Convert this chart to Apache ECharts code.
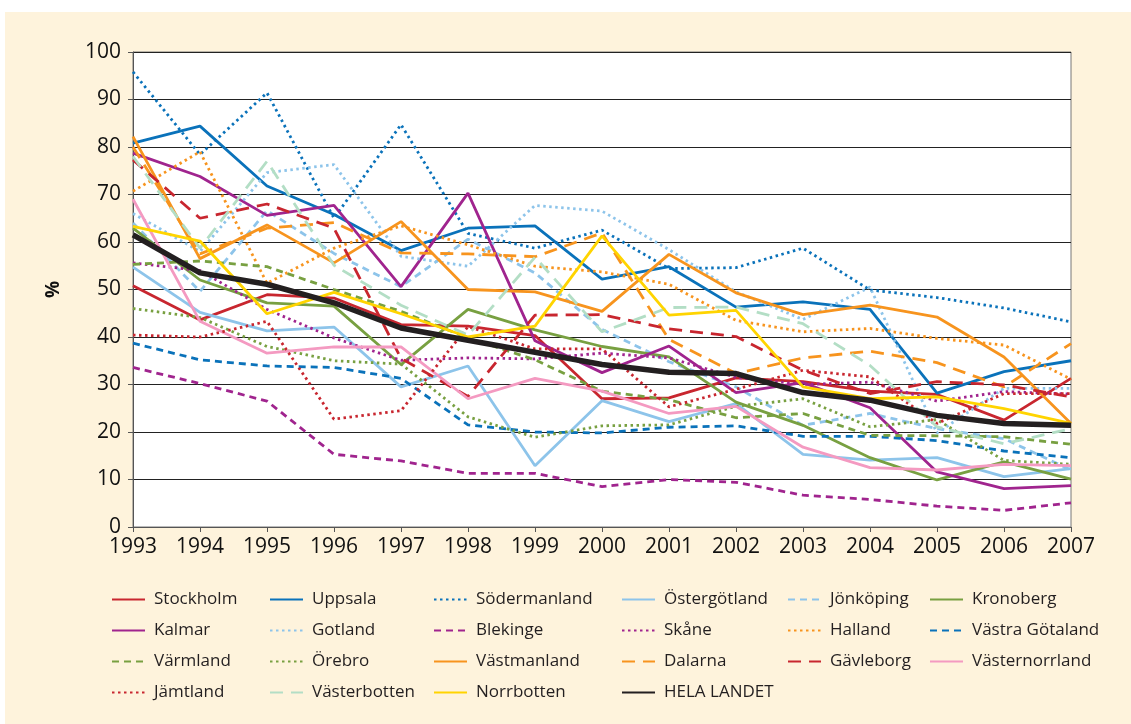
<!DOCTYPE html>
<html>
<head>
<meta charset="utf-8">
<script src="https://cdn.jsdelivr.net/npm/echarts@6/dist/echarts.min.js"></script>
<style>
  html, body { margin: 0; padding: 0; background: #fff; }
  #container { width: 1131px; height: 724px; }
</style>
</head>
<body>
<div id="container"></div>
<script>
var years = ['1993', '1994', '1995', '1996', '1997', '1998', '1999', '2000', '2001', '2002', '2003', '2004', '2005', '2006', '2007'];

// andel i procent per län och år
var stockholm      = [50.8, 43.6, 48.9, 48.2, 42.6, 42.3, 40.3, 27.0, 27.2, 31.4, 30.6, 28.6, 27.9, 22.5, 31.3];
var uppsala        = [80.8, 84.4, 71.8, 65.8, 58.2, 62.9, 63.4, 52.2, 54.8, 46.3, 47.4, 45.8, 28.2, 32.7, 35.0];
var sodermanland   = [95.8, 78.4, 91.4, 65.0, 84.7, 61.8, 58.7, 62.5, 54.4, 54.6, 58.7, 49.9, 48.3, 46.1, 43.2];
var ostergotland   = [54.7, 45.2, 41.3, 42.1, 29.5, 33.9, 12.9, 26.6, 22.2, 26.0, 15.3, 14.1, 14.6, 10.6, 12.3];
var jonkoping      = [64.0, 49.6, 66.6, 57.6, 50.6, 60.6, 53.5, 41.6, 34.8, 29.5, 21.4, 23.9, 20.7, 18.6, 12.0];
var kronoberg      = [62.9, 52.0, 47.2, 46.5, 34.2, 45.8, 41.5, 38.0, 35.8, 26.3, 21.4, 14.6, 9.9, 13.7, 10.1];
var kalmar         = [78.7, 73.8, 65.6, 67.7, 50.6, 70.3, 39.2, 32.5, 38.1, 28.3, 30.4, 25.1, 11.6, 8.1, 8.7];
var gotland        = [66.0, 58.0, 74.6, 76.3, 57.0, 54.9, 67.7, 66.5, 58.4, 49.5, 43.7, 50.5, 19.8, 29.2, 29.2];
var blekinge       = [33.6, 30.2, 26.5, 15.3, 13.9, 11.3, 11.3, 8.5, 10.0, 9.4, 6.7, 5.8, 4.4, 3.5, 5.1];
var skane          = [55.6, 54.0, 45.8, 39.8, 35.1, 35.6, 35.4, 36.6, 35.6, 31.5, 30.0, 30.5, 26.5, 28.5, 28.0];
var halland        = [70.7, 79.0, 51.3, 58.7, 63.4, 59.4, 54.9, 53.7, 51.1, 43.5, 41.1, 41.8, 39.7, 38.3, 31.1];
var vastraGotaland = [38.7, 35.2, 33.9, 33.6, 31.3, 21.5, 20.0, 19.8, 21.0, 21.3, 19.1, 19.1, 18.2, 16.0, 14.6];
var varmland       = [55.3, 56.0, 54.8, 50.0, 45.4, 39.8, 35.2, 28.6, 26.8, 23.0, 23.9, 19.3, 19.2, 19.0, 17.4];
var orebro         = [46.0, 44.1, 38.0, 35.0, 34.3, 23.2, 18.9, 21.3, 21.5, 25.4, 27.0, 21.1, 22.6, 14.0, 13.2];
var vastmanland    = [82.2, 56.5, 63.6, 55.6, 64.3, 50.0, 49.5, 45.4, 57.4, 49.3, 44.7, 46.7, 44.2, 35.8, 21.8];
var dalarna        = [80.0, 57.5, 62.9, 64.1, 57.7, 57.5, 56.9, 61.9, 39.5, 32.3, 35.6, 37.0, 34.6, 29.5, 38.6];
var gavleborg      = [77.3, 65.0, 68.0, 62.9, 35.5, 27.5, 44.6, 44.7, 41.7, 40.1, 33.0, 28.1, 30.6, 29.9, 27.4];
var vasternorrland = [69.0, 43.3, 36.6, 37.9, 37.9, 27.0, 31.3, 28.6, 23.9, 25.4, 16.8, 12.5, 12.0, 13.2, 12.9];
var jamtland       = [40.4, 40.0, 43.3, 22.7, 24.5, 42.2, 37.5, 37.5, 25.3, 29.0, 33.0, 31.6, 21.8, 28.1, 28.1];
var vasterbotten   = [78.0, 58.7, 77.0, 55.1, 46.7, 40.4, 56.8, 41.1, 46.2, 46.3, 42.8, 34.0, 21.1, 17.5, 20.7];
var norrbotten     = [63.3, 60.2, 44.9, 49.4, 44.9, 40.0, 42.3, 61.3, 44.6, 45.6, 29.5, 27.0, 27.4, 24.9, 21.8];
var helaLandet     = [61.5, 53.5, 51.1, 47.2, 41.9, 39.3, 36.8, 34.2, 32.6, 32.3, 28.3, 26.7, 23.5, 21.8, 21.4];

var RED = '#c8262f', BLUE = '#0a72ba', LBLUE = '#8dc4ea', GREEN = '#78a041',
    PURPLE = '#a0248e', ORANGE = '#f7941e', PINK = '#f49ac1', LGREEN = '#b3dec5',
    YELLOW = '#ffd400', BLACK = '#231f20';

var SOLID = 'solid', DOT = [2.5, 3.5], DASH = [7, 5], LDASH = [13, 8];

function line(name, data, color, type, width) {
    return {
        name: name,
        type: 'line',
        data: data,
        symbol: 'none',
        animation: false,
        lineStyle: { color: color, type: type, width: width || 2.8 },
        itemStyle: { color: color }
    };
}

var series = [
    line('Stockholm', stockholm, RED, SOLID),
    line('Uppsala', uppsala, BLUE, SOLID),
    line('Södermanland', sodermanland, BLUE, DOT),
    line('Östergötland', ostergotland, LBLUE, SOLID),
    line('Jönköping', jonkoping, LBLUE, DASH),
    line('Kronoberg', kronoberg, GREEN, SOLID),
    line('Kalmar', kalmar, PURPLE, SOLID),
    line('Gotland', gotland, LBLUE, DOT),
    line('Blekinge', blekinge, PURPLE, DASH),
    line('Skåne', skane, PURPLE, DOT),
    line('Halland', halland, ORANGE, DOT),
    line('Västra Götaland', vastraGotaland, BLUE, DASH),
    line('Värmland', varmland, GREEN, DASH),
    line('Örebro', orebro, GREEN, DOT),
    line('Västmanland', vastmanland, ORANGE, SOLID),
    line('Dalarna', dalarna, ORANGE, LDASH),
    line('Gävleborg', gavleborg, RED, LDASH),
    line('Västernorrland', vasternorrland, PINK, SOLID),
    line('Jämtland', jamtland, RED, DOT),
    line('Västerbotten', vasterbotten, LGREEN, LDASH),
    line('Norrbotten', norrbotten, YELLOW, SOLID),
    line('HELA LANDET', helaLandet, BLACK, SOLID, 5.5)
];

var FONT = '"Open Sans", "Noto Sans", sans-serif';

// legend i sex kolumner
var legendCols = [
    { left: 111, names: ['Stockholm', 'Kalmar', 'Värmland', 'Jämtland'] },
    { left: 269, names: ['Uppsala', 'Gotland', 'Örebro', 'Västerbotten'] },
    { left: 433, names: ['Södermanland', 'Blekinge', 'Västmanland', 'Norrbotten'] },
    { left: 621, names: ['Östergötland', 'Skåne', 'Dalarna', 'HELA LANDET'] },
    { left: 787, names: ['Jönköping', 'Halland', 'Gävleborg'] },
    { left: 929, names: ['Kronoberg', 'Västra Götaland', 'Västernorrland'] }
];

var legends = legendCols.map(function (c) {
    return {
        orient: 'vertical',
        left: c.left,
        top: 591,
        padding: 0,
        itemGap: 14,
        itemWidth: 33,
        itemHeight: 14,
        selectedMode: false,
        data: c.names,
        // göm symbolen, visa bara linjen
        itemStyle: { opacity: 0 },
        textStyle: { fontFamily: FONT, fontSize: 17, lineHeight: 17, color: '#231f20', padding: [0, 0, 0, 4] }
    };
});

var myChart = echarts.init(document.getElementById('container'));
myChart.setOption({
    backgroundColor: '#fef3dc',
    animation: false,
    graphic: [
        { type: 'rect', left: 0, top: 0, shape: { width: 1131, height: 12 }, style: { fill: '#fff' } },
        { type: 'rect', left: 0, top: 0, shape: { width: 5, height: 724 }, style: { fill: '#fff' } }
    ],
    legend: legends,
    grid: {
        left: 133, right: 60, top: 52, bottom: 197,
        show: true, backgroundColor: '#fff', borderColor: '#777', borderWidth: 1
    },
    xAxis: {
        type: 'category',
        data: years,
        boundaryGap: false,
        axisLine: { lineStyle: { color: '#555', width: 1 } },
        axisTick: { show: true, length: 5, lineStyle: { color: '#555' } },
        axisLabel: { fontFamily: FONT, fontSize: 21, color: '#111', margin: 10 },
        splitLine: { show: false }
    },
    yAxis: {
        type: 'value',
        min: 0, max: 100, interval: 10,
        name: '%',
        nameLocation: 'middle',
        nameRotate: 90,
        nameGap: 70,
        nameTextStyle: { fontFamily: FONT, fontSize: 19, fontWeight: 'bold', color: '#111' },
        axisLine: { show: true, lineStyle: { color: '#555', width: 1 } },
        axisTick: { show: true, length: 5, lineStyle: { color: '#555' } },
        axisLabel: { fontFamily: FONT, fontSize: 21, color: '#111', margin: 12 },
        splitLine: { lineStyle: { color: '#222', width: 1 } }
    },
    series: series
});
</script>
</body>
</html>
